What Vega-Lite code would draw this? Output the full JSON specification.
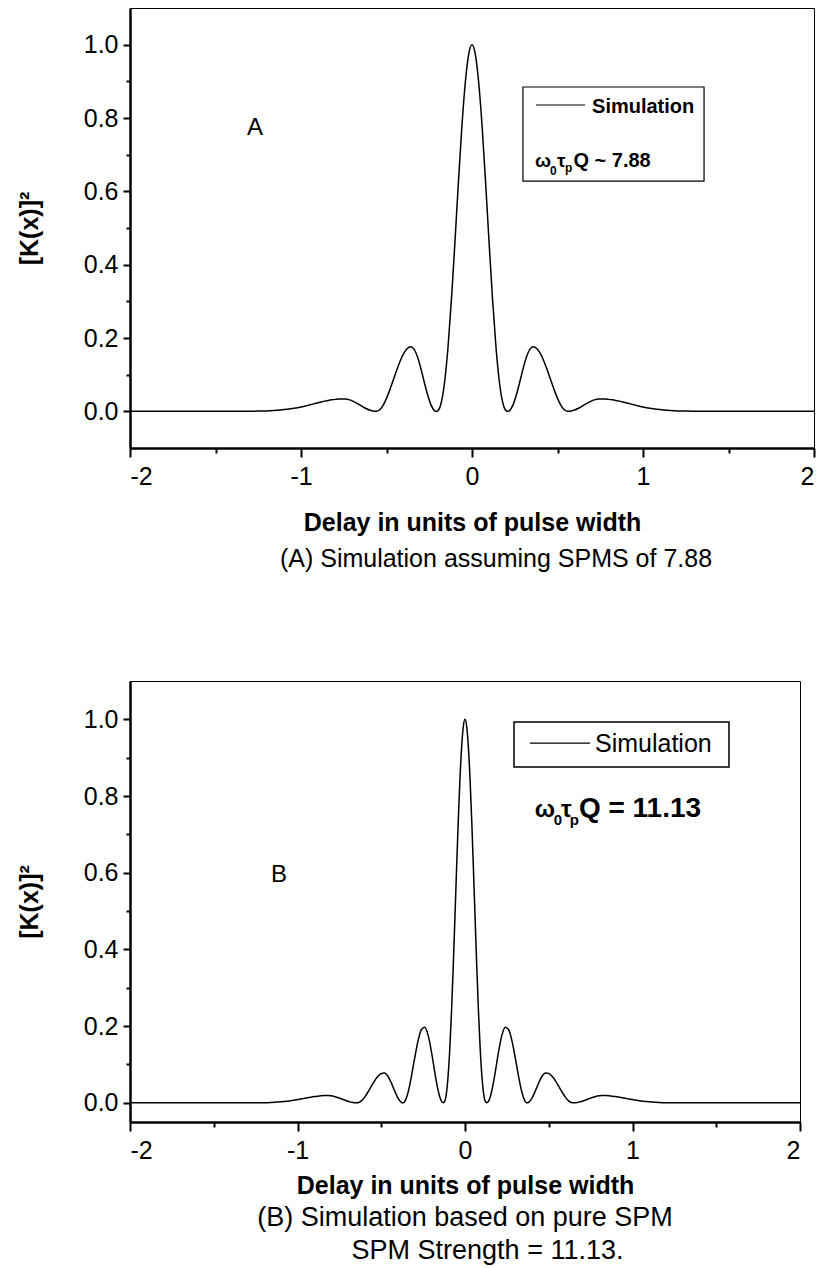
{
  "$schema": "https://vega.github.io/schema/vega-lite/v6.json",
  "background": "white",
  "padding": {"left": 16, "top": 7, "right": 5, "bottom": 3},
  "spacing": 107,
  "config": {
    "font": "Liberation Sans",
    "view": {"stroke": "black", "strokeWidth": 1},
    "axis": {"domainColor": "black", "domainWidth": 2.5, "tickColor": "black", "tickWidth": 2, "labelColor": "black", "titleColor": "black", "grid": false, "labelFont": "Liberation Sans", "titleFont": "Liberation Sans"},
    "title": {"color": "black", "font": "Liberation Sans"},
    "text": {"color": "black", "font": "Liberation Sans"}
  },
  "datasets": {
    "a": [
      {"x": -2.0, "k": 0}, {"x": -1.8, "k": 0}, {"x": -1.6, "k": 0}, {"x": -1.4, "k": 0},
      {"x": -1.3, "k": 0.0003}, {"x": -1.25, "k": 0.0006}, {"x": -1.2, "k": 0.0012}, {"x": -1.16, "k": 0.0021},
      {"x": -1.12, "k": 0.0035}, {"x": -1.08, "k": 0.0055}, {"x": -1.04, "k": 0.0084}, {"x": -1.0, "k": 0.012},
      {"x": -0.98, "k": 0.0141}, {"x": -0.96, "k": 0.0163}, {"x": -0.94, "k": 0.0186}, {"x": -0.92, "k": 0.021},
      {"x": -0.9, "k": 0.0234}, {"x": -0.88, "k": 0.0257}, {"x": -0.86, "k": 0.0278}, {"x": -0.84, "k": 0.0297},
      {"x": -0.82, "k": 0.0313}, {"x": -0.8, "k": 0.0326}, {"x": -0.78, "k": 0.0335}, {"x": -0.76, "k": 0.0339},
      {"x": -0.74, "k": 0.0338}, {"x": -0.72, "k": 0.0319}, {"x": -0.7, "k": 0.0285}, {"x": -0.68, "k": 0.0238},
      {"x": -0.66, "k": 0.0184}, {"x": -0.64, "k": 0.0128}, {"x": -0.62, "k": 0.0077}, {"x": -0.6, "k": 0.0036},
      {"x": -0.58, "k": 0.0009}, {"x": -0.56, "k": 0}, {"x": -0.54, "k": 0.0042}, {"x": -0.52, "k": 0.0164},
      {"x": -0.5, "k": 0.0353}, {"x": -0.48, "k": 0.0592}, {"x": -0.46, "k": 0.086}, {"x": -0.44, "k": 0.1128},
      {"x": -0.42, "k": 0.1374}, {"x": -0.4, "k": 0.1572}, {"x": -0.38, "k": 0.1705}, {"x": -0.36, "k": 0.1759},
      {"x": -0.34, "k": 0.1703}, {"x": -0.32, "k": 0.1499}, {"x": -0.3, "k": 0.1185}, {"x": -0.28, "k": 0.0814},
      {"x": -0.26, "k": 0.0457}, {"x": -0.24, "k": 0.0175}, {"x": -0.22, "k": 0.002}, {"x": -0.21, "k": 0},
      {"x": -0.2, "k": 0.0015}, {"x": -0.18, "k": 0.0234}, {"x": -0.16, "k": 0.0806}, {"x": -0.14, "k": 0.1768},
      {"x": -0.12, "k": 0.3069}, {"x": -0.1, "k": 0.46}, {"x": -0.08, "k": 0.6204}, {"x": -0.06, "k": 0.7706},
      {"x": -0.04, "k": 0.8927}, {"x": -0.02, "k": 0.9723}, {"x": 0, "k": 1.0},
      {"x": 0.02, "k": 0.9723}, {"x": 0.04, "k": 0.8927}, {"x": 0.06, "k": 0.7706}, {"x": 0.08, "k": 0.6204},
      {"x": 0.1, "k": 0.46}, {"x": 0.12, "k": 0.3069}, {"x": 0.14, "k": 0.1768}, {"x": 0.16, "k": 0.0806},
      {"x": 0.18, "k": 0.0234}, {"x": 0.2, "k": 0.0015}, {"x": 0.21, "k": 0}, {"x": 0.22, "k": 0.002},
      {"x": 0.24, "k": 0.0175}, {"x": 0.26, "k": 0.0457}, {"x": 0.28, "k": 0.0814}, {"x": 0.3, "k": 0.1185},
      {"x": 0.32, "k": 0.1499}, {"x": 0.34, "k": 0.1703}, {"x": 0.36, "k": 0.1759}, {"x": 0.38, "k": 0.1705},
      {"x": 0.4, "k": 0.1572}, {"x": 0.42, "k": 0.1374}, {"x": 0.44, "k": 0.1128}, {"x": 0.46, "k": 0.086},
      {"x": 0.48, "k": 0.0592}, {"x": 0.5, "k": 0.0353}, {"x": 0.52, "k": 0.0164}, {"x": 0.54, "k": 0.0042},
      {"x": 0.56, "k": 0}, {"x": 0.58, "k": 0.0009}, {"x": 0.6, "k": 0.0036}, {"x": 0.62, "k": 0.0077},
      {"x": 0.64, "k": 0.0128}, {"x": 0.66, "k": 0.0184}, {"x": 0.68, "k": 0.0238}, {"x": 0.7, "k": 0.0285},
      {"x": 0.72, "k": 0.0319}, {"x": 0.74, "k": 0.0338}, {"x": 0.76, "k": 0.0339}, {"x": 0.78, "k": 0.0335},
      {"x": 0.8, "k": 0.0326}, {"x": 0.82, "k": 0.0313}, {"x": 0.84, "k": 0.0297}, {"x": 0.86, "k": 0.0278},
      {"x": 0.88, "k": 0.0257}, {"x": 0.9, "k": 0.0234}, {"x": 0.92, "k": 0.021}, {"x": 0.94, "k": 0.0186},
      {"x": 0.96, "k": 0.0163}, {"x": 0.98, "k": 0.0141}, {"x": 1.0, "k": 0.012}, {"x": 1.04, "k": 0.0084},
      {"x": 1.08, "k": 0.0055}, {"x": 1.12, "k": 0.0035}, {"x": 1.16, "k": 0.0021}, {"x": 1.2, "k": 0.0012},
      {"x": 1.25, "k": 0.0006}, {"x": 1.3, "k": 0.0003}, {"x": 1.4, "k": 0}, {"x": 1.6, "k": 0},
      {"x": 1.8, "k": 0}, {"x": 2.0, "k": 0}
    ],
    "b": [
      {"x": -2.0, "k": 0}, {"x": -1.6, "k": 0}, {"x": -1.3, "k": 0}, {"x": -1.2, "k": 0.0005},
      {"x": -1.16, "k": 0.0011}, {"x": -1.12, "k": 0.002}, {"x": -1.08, "k": 0.0035}, {"x": -1.04, "k": 0.0057},
      {"x": -1.0, "k": 0.0085}, {"x": -0.98, "k": 0.01}, {"x": -0.96, "k": 0.0116}, {"x": -0.94, "k": 0.0133},
      {"x": -0.92, "k": 0.0148}, {"x": -0.9, "k": 0.0162}, {"x": -0.88, "k": 0.0174}, {"x": -0.86, "k": 0.0183},
      {"x": -0.84, "k": 0.0188}, {"x": -0.82, "k": 0.019}, {"x": -0.8, "k": 0.0184}, {"x": -0.78, "k": 0.0167},
      {"x": -0.76, "k": 0.014}, {"x": -0.74, "k": 0.0108}, {"x": -0.72, "k": 0.0074}, {"x": -0.7, "k": 0.0043},
      {"x": -0.68, "k": 0.0018}, {"x": -0.66, "k": 0.0003}, {"x": -0.645, "k": 0}, {"x": -0.64, "k": 0.0002},
      {"x": -0.62, "k": 0.0046}, {"x": -0.6, "k": 0.0143}, {"x": -0.58, "k": 0.0277}, {"x": -0.56, "k": 0.0428},
      {"x": -0.54, "k": 0.0574}, {"x": -0.52, "k": 0.0691}, {"x": -0.5, "k": 0.0763}, {"x": -0.48, "k": 0.0776},
      {"x": -0.46, "k": 0.0693}, {"x": -0.44, "k": 0.0521}, {"x": -0.42, "k": 0.0311}, {"x": -0.4, "k": 0.0124},
      {"x": -0.38, "k": 0.0014}, {"x": -0.37, "k": 0}, {"x": -0.36, "k": 0.0031}, {"x": -0.34, "k": 0.0268},
      {"x": -0.32, "k": 0.0684}, {"x": -0.3, "k": 0.1176}, {"x": -0.28, "k": 0.1621}, {"x": -0.26, "k": 0.1911},
      {"x": -0.24, "k": 0.1971}, {"x": -0.22, "k": 0.1759}, {"x": -0.2, "k": 0.1322}, {"x": -0.19, "k": 0.1057},
      {"x": -0.18, "k": 0.0789}, {"x": -0.17, "k": 0.0535}, {"x": -0.16, "k": 0.0314}, {"x": -0.15, "k": 0.0144},
      {"x": -0.14, "k": 0.0037}, {"x": -0.13, "k": 0}, {"x": -0.12, "k": 0.005}, {"x": -0.11, "k": 0.028},
      {"x": -0.1, "k": 0.0749}, {"x": -0.09, "k": 0.1472}, {"x": -0.08, "k": 0.2432}, {"x": -0.07, "k": 0.3581},
      {"x": -0.06, "k": 0.4847}, {"x": -0.05, "k": 0.6144}, {"x": -0.04, "k": 0.7378}, {"x": -0.03, "k": 0.8454},
      {"x": -0.02, "k": 0.9289}, {"x": -0.01, "k": 0.9819}, {"x": 0, "k": 1.0},
      {"x": 0.01, "k": 0.9819}, {"x": 0.02, "k": 0.9289}, {"x": 0.03, "k": 0.8454}, {"x": 0.04, "k": 0.7378},
      {"x": 0.05, "k": 0.6144}, {"x": 0.06, "k": 0.4847}, {"x": 0.07, "k": 0.3581}, {"x": 0.08, "k": 0.2432},
      {"x": 0.09, "k": 0.1472}, {"x": 0.1, "k": 0.0749}, {"x": 0.11, "k": 0.028}, {"x": 0.12, "k": 0.005},
      {"x": 0.13, "k": 0}, {"x": 0.14, "k": 0.0037}, {"x": 0.15, "k": 0.0144}, {"x": 0.16, "k": 0.0314},
      {"x": 0.17, "k": 0.0535}, {"x": 0.18, "k": 0.0789}, {"x": 0.19, "k": 0.1057}, {"x": 0.2, "k": 0.1322},
      {"x": 0.22, "k": 0.1759}, {"x": 0.24, "k": 0.1971}, {"x": 0.26, "k": 0.1911}, {"x": 0.28, "k": 0.1621},
      {"x": 0.3, "k": 0.1176}, {"x": 0.32, "k": 0.0684}, {"x": 0.34, "k": 0.0268}, {"x": 0.36, "k": 0.0031},
      {"x": 0.37, "k": 0}, {"x": 0.38, "k": 0.0014}, {"x": 0.4, "k": 0.0124}, {"x": 0.42, "k": 0.0311},
      {"x": 0.44, "k": 0.0521}, {"x": 0.46, "k": 0.0693}, {"x": 0.48, "k": 0.0776}, {"x": 0.5, "k": 0.0763},
      {"x": 0.52, "k": 0.0691}, {"x": 0.54, "k": 0.0574}, {"x": 0.56, "k": 0.0428}, {"x": 0.58, "k": 0.0277},
      {"x": 0.6, "k": 0.0143}, {"x": 0.62, "k": 0.0046}, {"x": 0.64, "k": 0.0002}, {"x": 0.645, "k": 0},
      {"x": 0.66, "k": 0.0003}, {"x": 0.68, "k": 0.0018}, {"x": 0.7, "k": 0.0043}, {"x": 0.72, "k": 0.0074},
      {"x": 0.74, "k": 0.0108}, {"x": 0.76, "k": 0.014}, {"x": 0.78, "k": 0.0167}, {"x": 0.8, "k": 0.0184},
      {"x": 0.82, "k": 0.019}, {"x": 0.84, "k": 0.0188}, {"x": 0.86, "k": 0.0183}, {"x": 0.88, "k": 0.0174},
      {"x": 0.9, "k": 0.0162}, {"x": 0.92, "k": 0.0148}, {"x": 0.94, "k": 0.0133}, {"x": 0.96, "k": 0.0116},
      {"x": 0.98, "k": 0.01}, {"x": 1.0, "k": 0.0085}, {"x": 1.04, "k": 0.0057}, {"x": 1.08, "k": 0.0035},
      {"x": 1.12, "k": 0.002}, {"x": 1.16, "k": 0.0011}, {"x": 1.2, "k": 0.0005}, {"x": 1.3, "k": 0},
      {"x": 1.6, "k": 0}, {"x": 2.0, "k": 0}
    ]
  },
  "vconcat": [
    {
      "width": 684,
      "height": 440,
      "title": {"text": "(A) Simulation assuming SPMS of 7.88", "orient": "bottom", "anchor": "middle", "fontSize": 25, "fontWeight": "normal", "offset": 12, "dx": 24},
      "data": {"name": "a"},
      "layer": [
        {
          "mark": {"type": "line", "color": "black", "strokeWidth": 1.5, "interpolate": "monotone"},
          "encoding": {
            "x": {"field": "x", "type": "quantitative", "scale": {"domain": [-2, 2], "nice": false, "zero": false},
                  "axis": {"orient": "bottom", "values": [-2, -1, 0, 1, 2], "labelExpr": "toString(datum.value)", "tickSize": 9, "labelFontSize": 25, "labelPadding": 7, "title": "Delay in units of pulse width", "titleFontSize": 25, "titleFontWeight": "bold", "titlePadding": 21}},
            "y": {"field": "k", "type": "quantitative", "scale": {"domain": [-0.1, 1.1], "nice": false, "zero": false},
                  "axis": {"orient": "left", "values": [0, 0.2, 0.4, 0.6, 0.8, 1.0], "format": ".1f", "tickSize": 7, "labelFontSize": 25, "labelPadding": 5, "title": "[K(x)]²", "titleFontSize": 25, "titleFontWeight": "bold", "titlePadding": 41}}
          }
        },
        {
          "mark": {"type": "line", "strokeOpacity": 0},
          "encoding": {
            "x": {"field": "x", "type": "quantitative", "scale": {"domain": [-2, 2], "nice": false, "zero": false},
                  "axis": {"orient": "bottom", "values": [-1.5, -0.5, 0.5, 1.5], "labels": false, "domain": false, "tickSize": 5, "title": null}},
            "y": {"field": "k", "type": "quantitative", "scale": {"domain": [-0.1, 1.1], "nice": false, "zero": false},
                  "axis": {"orient": "left", "values": [0.1, 0.3, 0.5, 0.7, 0.9], "labels": false, "domain": false, "tickSize": 4, "title": null}}
          }
        },
        {
          "data": {"values": [{}]},
          "mark": {"type": "rect", "fill": "white", "stroke": "black", "strokeWidth": 1.2},
          "encoding": {
            "x": {"datum": 0.298, "type": "quantitative", "scale": {"domain": [-2, 2], "nice": false, "zero": false}, "axis": null},
            "x2": {"datum": 1.357},
            "y": {"datum": 0.8845, "type": "quantitative", "scale": {"domain": [-0.1, 1.1], "nice": false, "zero": false}, "axis": null},
            "y2": {"datum": 0.628}
          }
        },
        {
          "data": {"values": [{}]},
          "mark": {"type": "rule", "color": "black", "strokeWidth": 1.2},
          "encoding": {
            "x": {"datum": 0.374, "type": "quantitative", "scale": {"domain": [-2, 2], "nice": false, "zero": false}, "axis": null},
            "x2": {"datum": 0.661},
            "y": {"datum": 0.8355, "type": "quantitative", "scale": {"domain": [-0.1, 1.1], "nice": false, "zero": false}, "axis": null}
          }
        },
        {
          "data": {"values": [{}]},
          "mark": {"type": "text", "text": "Simulation", "align": "left", "baseline": "alphabetic", "fontSize": 20, "fontWeight": "bold"},
          "encoding": {
            "x": {"datum": 0.702, "type": "quantitative", "scale": {"domain": [-2, 2], "nice": false, "zero": false}, "axis": null},
            "y": {"datum": 0.8145, "type": "quantitative", "scale": {"domain": [-0.1, 1.1], "nice": false, "zero": false}, "axis": null}
          }
        },
        {
          "data": {"values": [{}]},
          "mark": {"type": "text", "text": "ω", "align": "left", "baseline": "alphabetic", "fontSize": 19, "fontWeight": "bold"},
          "encoding": {
            "x": {"datum": 0.368, "type": "quantitative", "scale": {"domain": [-2, 2], "nice": false, "zero": false}, "axis": null},
            "y": {"datum": 0.667, "type": "quantitative", "scale": {"domain": [-0.1, 1.1], "nice": false, "zero": false}, "axis": null}
          }
        },
        {
          "data": {"values": [{}]},
          "mark": {"type": "text", "text": "0", "align": "left", "baseline": "alphabetic", "fontSize": 12, "fontWeight": "bold"},
          "encoding": {
            "x": {"datum": 0.456, "type": "quantitative", "scale": {"domain": [-2, 2], "nice": false, "zero": false}, "axis": null},
            "y": {"datum": 0.6446, "type": "quantitative", "scale": {"domain": [-0.1, 1.1], "nice": false, "zero": false}, "axis": null}
          }
        },
        {
          "data": {"values": [{}]},
          "mark": {"type": "text", "text": "τ", "align": "left", "baseline": "alphabetic", "fontSize": 19, "fontWeight": "bold"},
          "encoding": {
            "x": {"datum": 0.497, "type": "quantitative", "scale": {"domain": [-2, 2], "nice": false, "zero": false}, "axis": null},
            "y": {"datum": 0.667, "type": "quantitative", "scale": {"domain": [-0.1, 1.1], "nice": false, "zero": false}, "axis": null}
          }
        },
        {
          "data": {"values": [{}]},
          "mark": {"type": "text", "text": "p", "align": "left", "baseline": "alphabetic", "fontSize": 12, "fontWeight": "bold"},
          "encoding": {
            "x": {"datum": 0.544, "type": "quantitative", "scale": {"domain": [-2, 2], "nice": false, "zero": false}, "axis": null},
            "y": {"datum": 0.6535, "type": "quantitative", "scale": {"domain": [-0.1, 1.1], "nice": false, "zero": false}, "axis": null}
          }
        },
        {
          "data": {"values": [{}]},
          "mark": {"type": "text", "text": "Q ~ 7.88", "align": "left", "baseline": "alphabetic", "fontSize": 20, "fontWeight": "bold"},
          "encoding": {
            "x": {"datum": 0.593, "type": "quantitative", "scale": {"domain": [-2, 2], "nice": false, "zero": false}, "axis": null},
            "y": {"datum": 0.667, "type": "quantitative", "scale": {"domain": [-0.1, 1.1], "nice": false, "zero": false}, "axis": null}
          }
        },
        {
          "data": {"values": [{}]},
          "mark": {"type": "text", "text": "A", "align": "center", "baseline": "alphabetic", "fontSize": 24},
          "encoding": {
            "x": {"datum": -1.269, "type": "quantitative", "scale": {"domain": [-2, 2], "nice": false, "zero": false}, "axis": null},
            "y": {"datum": 0.7536, "type": "quantitative", "scale": {"domain": [-0.1, 1.1], "nice": false, "zero": false}, "axis": null}
          }
        }
      ],
      "resolve": {"axis": {"x": "independent", "y": "independent"}}
    },
    {
      "width": 670,
      "height": 441,
      "title": {"text": ["(B) Simulation based on pure SPM", "\u200b\u00a0\u00a0\u00a0\u00a0\u00a0\u00a0SPM Strength = 11.13."], "orient": "bottom", "anchor": "middle", "fontSize": 27, "fontWeight": "normal", "offset": 7, "lineHeight": 33},
      "data": {"name": "b"},
      "layer": [
        {
          "mark": {"type": "line", "color": "black", "strokeWidth": 1.5, "interpolate": "monotone"},
          "encoding": {
            "x": {"field": "x", "type": "quantitative", "scale": {"domain": [-2, 2], "nice": false, "zero": false},
                  "axis": {"orient": "bottom", "values": [-2, -1, 0, 1, 2], "labelExpr": "toString(datum.value)", "tickSize": 9, "labelFontSize": 25, "labelPadding": 7, "title": "Delay in units of pulse width", "titleFontSize": 25, "titleFontWeight": "bold", "titlePadding": 10}},
            "y": {"field": "k", "type": "quantitative", "scale": {"domain": [-0.05, 1.1], "nice": false, "zero": false},
                  "axis": {"orient": "left", "values": [0, 0.2, 0.4, 0.6, 0.8, 1.0], "format": ".1f", "tickSize": 7, "labelFontSize": 25, "labelPadding": 5, "title": "[K(x)]²", "titleFontSize": 25, "titleFontWeight": "bold", "titlePadding": 41}}
          }
        },
        {
          "mark": {"type": "line", "strokeOpacity": 0},
          "encoding": {
            "x": {"field": "x", "type": "quantitative", "scale": {"domain": [-2, 2], "nice": false, "zero": false},
                  "axis": {"orient": "bottom", "values": [-1.5, -0.5, 0.5, 1.5], "labels": false, "domain": false, "tickSize": 5, "title": null}},
            "y": {"field": "k", "type": "quantitative", "scale": {"domain": [-0.05, 1.1], "nice": false, "zero": false},
                  "axis": {"orient": "left", "values": [0.1, 0.3, 0.5, 0.7, 0.9], "labels": false, "domain": false, "tickSize": 4, "title": null}}
          }
        },
        {
          "data": {"values": [{}]},
          "mark": {"type": "rect", "fill": "white", "stroke": "black", "strokeWidth": 1.5},
          "encoding": {
            "x": {"datum": 0.2925, "type": "quantitative", "scale": {"domain": [-2, 2], "nice": false, "zero": false}, "axis": null},
            "x2": {"datum": 1.576},
            "y": {"datum": 0.993, "type": "quantitative", "scale": {"domain": [-0.05, 1.1], "nice": false, "zero": false}, "axis": null},
            "y2": {"datum": 0.8757}
          }
        },
        {
          "data": {"values": [{}]},
          "mark": {"type": "rule", "color": "black", "strokeWidth": 1.2},
          "encoding": {
            "x": {"datum": 0.388, "type": "quantitative", "scale": {"domain": [-2, 2], "nice": false, "zero": false}, "axis": null},
            "x2": {"datum": 0.746},
            "y": {"datum": 0.938, "type": "quantitative", "scale": {"domain": [-0.05, 1.1], "nice": false, "zero": false}, "axis": null}
          }
        },
        {
          "data": {"values": [{}]},
          "mark": {"type": "text", "text": "Simulation", "align": "left", "baseline": "alphabetic", "fontSize": 25},
          "encoding": {
            "x": {"datum": 0.776, "type": "quantitative", "scale": {"domain": [-2, 2], "nice": false, "zero": false}, "axis": null},
            "y": {"datum": 0.915, "type": "quantitative", "scale": {"domain": [-0.05, 1.1], "nice": false, "zero": false}, "axis": null}
          }
        },
        {
          "data": {"values": [{}]},
          "mark": {"type": "text", "text": "ω", "align": "left", "baseline": "alphabetic", "fontSize": 24, "fontWeight": "bold"},
          "encoding": {
            "x": {"datum": 0.416, "type": "quantitative", "scale": {"domain": [-2, 2], "nice": false, "zero": false}, "axis": null},
            "y": {"datum": 0.7446, "type": "quantitative", "scale": {"domain": [-0.05, 1.1], "nice": false, "zero": false}, "axis": null}
          }
        },
        {
          "data": {"values": [{}]},
          "mark": {"type": "text", "text": "0", "align": "left", "baseline": "alphabetic", "fontSize": 15, "fontWeight": "bold"},
          "encoding": {
            "x": {"datum": 0.53, "type": "quantitative", "scale": {"domain": [-2, 2], "nice": false, "zero": false}, "axis": null},
            "y": {"datum": 0.7232, "type": "quantitative", "scale": {"domain": [-0.05, 1.1], "nice": false, "zero": false}, "axis": null}
          }
        },
        {
          "data": {"values": [{}]},
          "mark": {"type": "text", "text": "τ", "align": "left", "baseline": "alphabetic", "fontSize": 24, "fontWeight": "bold"},
          "encoding": {
            "x": {"datum": 0.573, "type": "quantitative", "scale": {"domain": [-2, 2], "nice": false, "zero": false}, "axis": null},
            "y": {"datum": 0.7446, "type": "quantitative", "scale": {"domain": [-0.05, 1.1], "nice": false, "zero": false}, "axis": null}
          }
        },
        {
          "data": {"values": [{}]},
          "mark": {"type": "text", "text": "p", "align": "left", "baseline": "alphabetic", "fontSize": 15, "fontWeight": "bold"},
          "encoding": {
            "x": {"datum": 0.625, "type": "quantitative", "scale": {"domain": [-2, 2], "nice": false, "zero": false}, "axis": null},
            "y": {"datum": 0.7255, "type": "quantitative", "scale": {"domain": [-0.05, 1.1], "nice": false, "zero": false}, "axis": null}
          }
        },
        {
          "data": {"values": [{}]},
          "mark": {"type": "text", "text": "Q = 11.13", "align": "left", "baseline": "alphabetic", "fontSize": 28, "fontWeight": "bold"},
          "encoding": {
            "x": {"datum": 0.68, "type": "quantitative", "scale": {"domain": [-2, 2], "nice": false, "zero": false}, "axis": null},
            "y": {"datum": 0.7446, "type": "quantitative", "scale": {"domain": [-0.05, 1.1], "nice": false, "zero": false}, "axis": null}
          }
        },
        {
          "data": {"values": [{}]},
          "mark": {"type": "text", "text": "B", "align": "center", "baseline": "alphabetic", "fontSize": 24},
          "encoding": {
            "x": {"datum": -1.11, "type": "quantitative", "scale": {"domain": [-2, 2], "nice": false, "zero": false}, "axis": null},
            "y": {"datum": 0.576, "type": "quantitative", "scale": {"domain": [-0.05, 1.1], "nice": false, "zero": false}, "axis": null}
          }
        }
      ],
      "resolve": {"axis": {"x": "independent", "y": "independent"}}
    }
  ]
}
